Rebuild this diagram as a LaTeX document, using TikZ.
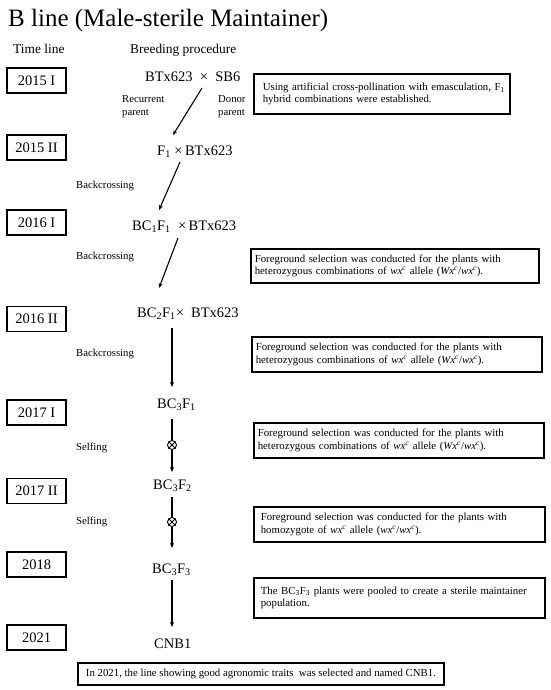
\documentclass[tikz,border=0pt]{standalone}
\usepackage{fontspec}
\setmainfont{Liberation Serif}
\usetikzlibrary{arrows.meta}
\begin{document}
\begin{tikzpicture}[x=1pt,y=-1pt,
  yearbox/.style={draw, line width=1.2pt, minimum width=59pt, minimum height=25pt, inner sep=0pt, font=\fontsize{14.5}{16}\selectfont},
  note/.style={draw, line width=1.6pt, align=left, font=\fontsize{10.8}{12.5}\selectfont, inner ysep=0pt, anchor=west},
  gen/.style={anchor=base west, inner sep=0pt, font=\fontsize{14.5}{16}\selectfont},
  lab/.style={anchor=west, inner sep=0pt, align=left, font=\fontsize{10.7}{13}\selectfont},
  head/.style={anchor=base west, inner sep=0pt, font=\fontsize{13.4}{15}\selectfont},
  arr/.style={line width=1.1pt, -{Stealth[length=5pt,width=4pt]}},
  selfx/.style={circle, draw, line width=0.9pt, minimum size=9pt, inner sep=0pt}]
\useasboundingbox (0,0) rectangle (550,690);
\newcommand{\wxc}{\textit{wx}\textsuperscript{\textit{c}}}
\newcommand{\Wxc}{\textit{Wx}\textsuperscript{\textit{c}}}

% title and headers
\node[anchor=base west, inner sep=0pt, font=\fontsize{25}{28}\selectfont] (title) at (8,27) {B line (Male-sterile Maintainer)};
\node[head] (tl) at (13,54) {Time line};
\node[head] (bp) at (130,54) {Breeding procedure};

% year boxes
\node[yearbox] (y1) at (36.5,80.5) {2015 I};
\node[yearbox] (y2) at (36.5,147.5) {2015 II};
\node[yearbox] (y3) at (36.5,222.5) {2016 I};
\node[yearbox] (y4) at (36.5,319) {2016 II};
\node[yearbox] (y5) at (36.5,412.5) {2017 I};
\node[yearbox] (y6) at (36.5,491) {2017 II};
\node[yearbox] (y7) at (36.5,564.5) {2018};
\node[yearbox] (y8) at (36.5,637.5) {2021};

% generations
\node[gen] (n1) at (145,82) {BTx623~ ×~ SB6};
\node[gen] (n2) at (157,155) {F\textsubscript{1} ×\,BTx623};
\node[gen] (n3) at (132,230) {BC\textsubscript{1}F\textsubscript{1}~ ×\,BTx623};
\node[gen] (n4) at (137,317) {BC\textsubscript{2}F\textsubscript{1}×~ BTx623};
\node[gen] (n5) at (157,408) {BC\textsubscript{3}F\textsubscript{1}};
\node[gen] (n6) at (153,489) {BC\textsubscript{3}F\textsubscript{2}};
\node[gen] (n7) at (152,573) {BC\textsubscript{3}F\textsubscript{3}};
\node[gen] (n8) at (154,648) {CNB1};

% side labels
\node[lab] (rp) at (122,106.5) {Recurrent\\parent};
\node[lab] (dp) at (218,106.5) {Donor\\parent};
\node[lab] (b1) at (76,186) {Backcrossing};
\node[lab] (b2) at (76,257) {Backcrossing};
\node[lab] (b3) at (76,354) {Backcrossing};
\node[lab] (s1) at (76,448) {Selfing};
\node[lab] (s2) at (76,522) {Selfing};

% arrow end points
\coordinate (a1s) at (202,88);  \coordinate (a1e) at (173,135);
\coordinate (a2s) at (180,162); \coordinate (a2e) at (159,210);
\coordinate (a3s) at (178,238); \coordinate (a3e) at (159,288);
\coordinate (a4s) at (172,328); \coordinate (a4e) at (172,387);
\coordinate (a5s) at (172,419); \coordinate (a5e) at (172,472);
\coordinate (a6s) at (172,497); \coordinate (a6e) at (172,548);
\coordinate (a7s) at (172,580); \coordinate (a7e) at (172,627);
\node[selfx] (x1) at (172,445) {};
\node[selfx] (x2) at (172,522) {};

\draw[arr] (a1s) -- (a1e);
\draw[arr] (a2s) -- (a2e);
\draw[arr] (a3s) -- (a3e);
\draw[arr] (a4s) -- (a4e);
\draw[line width=1.1pt] (a5s) -- (x1.north);
\draw[arr] (x1.south) -- (a5e);
\draw[line width=1.1pt] (a6s) -- (x2.north);
\draw[arr] (x2.south) -- (a6e);
\draw[arr] (a7s) -- (a7e);
\foreach \c in {x1,x2}{
  \draw[line width=0.8pt] (\c.45) -- (\c.225) (\c.135) -- (\c.315);
}

% notes
\node[note, minimum height=40pt, text width=238pt, inner xsep=9pt] (r1) at (253,94)
  {\mbox{Using artificial cross-pollination with emasculation, F\textsubscript{1}}\\hybrid combinations were established.};
\node[note, minimum height=34pt, text width=280pt, inner xsep=4pt] (r2) at (250,266)
  {Foreground selection was conducted for the plants with\\heterozygous combinations of \wxc{} allele (\Wxc/\wxc).};
\node[note, minimum height=35pt, text width=282pt, inner xsep=4pt] (r3) at (251,354.5)
  {Foreground selection was conducted for the plants with\\heterozygous combinations of \wxc{} allele (\Wxc/\wxc).};
\node[note, minimum height=35pt, text width=282pt, inner xsep=4pt] (r4) at (253,440.5)
  {Foreground selection was conducted for the plants with\\heterozygous combinations of \wxc{} allele (\Wxc/\wxc).};
\node[note, minimum height=35pt, text width=277pt, inner xsep=7pt] (r5) at (253,524.5)
  {Foreground selection was conducted for the plants with\\homozygote of \wxc{} allele (\wxc/\wxc).};
\node[note, minimum height=40pt, text width=277pt, inner xsep=7pt] (r6) at (253,598)
  {The BC\textsubscript{3}F\textsubscript{3} plants were pooled to create a sterile maintainer\\population.};
\node[draw, line width=1.5pt, minimum width=366pt, minimum height=22pt, inner xsep=7pt, inner ysep=0pt, font=\fontsize{10.8}{12.5}\selectfont] (r7) at (261,674)
  {In 2021, the line showing good agronomic traits~ was selected and named CNB1.};
\end{tikzpicture}
\end{document}
